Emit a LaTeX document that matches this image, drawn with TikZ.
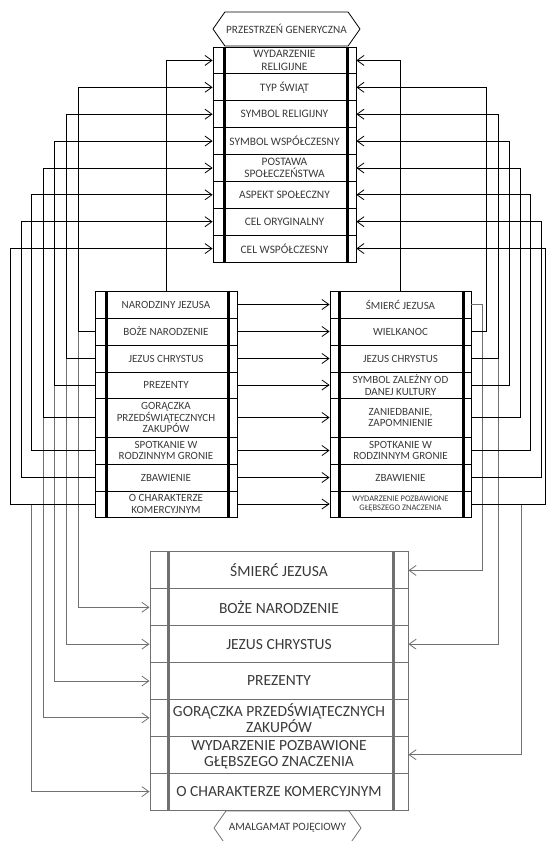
\documentclass[tikz,border=0pt]{standalone}
\usepackage{fontspec}
\setmainfont{Carlito}
\usetikzlibrary{arrows.meta,shapes.symbols}
\definecolor{ink}{HTML}{3A3A3A}
\definecolor{greyline}{HTML}{707070}
\tikzset{
  genrow/.style={draw, rectangle, line width=0.8pt, minimum width=143pt, minimum height=26.9pt,
    inner sep=0pt, align=center, text=ink, font=\fontsize{11.4}{12.6}\selectfont},
  inrow/.style={draw, rectangle, line width=0.8pt, minimum width=#1, inner sep=0pt,
    align=center, text=ink, font=\fontsize{11}{11.8}\selectfont},
  blendrow/.style={draw=greyline, rectangle, line width=1pt, minimum width=258pt, minimum height=36.9pt,
    inner sep=0pt, align=center, text=ink, font=\fontsize{15.5}{16.5}\selectfont},
  spacelbl/.style={draw, signal, signal to=west and east, signal pointer angle=110,
    minimum width=147pt, minimum height=34pt, inner sep=0pt, line width=0.8pt,
    text=ink, font=\fontsize{11.2}{12}\selectfont},
  arr/.style={-{Straight Barb[length=7pt,width=10pt]}, line width=0.8pt},
  garr/.style={arr, draw=greyline},
  frame/.style={line width=2.4pt},
}
\begin{document}
\begin{tikzpicture}[x=1pt, y=-1pt]
\useasboundingbox (0,0) rectangle (546,841);

% generic space
\node[spacelbl] (gen) at (286.5,29) {PRZESTRZEŃ GENERYCZNA};
\foreach \t [count=\i] in {{WYDARZENIE\\RELIGIJNE}, {TYP ŚWIĄT}, {SYMBOL RELIGIJNY},
    {SYMBOL WSPÓŁCZESNY}, {POSTAWA\\SPOŁECZEŃSTWA}, {ASPEKT SPOŁECZNY},
    {CEL ORYGINALNY}, {CEL WSPÓŁCZESNY}}
  \node[genrow] (g\i) at (284.5,{47+26.875*(\i-0.5)}) {\t};
\draw[frame] ([xshift=12pt]g1.north west) -- ([xshift=12pt]g8.south west);
\draw[frame] ([xshift=-9pt]g1.north east) -- ([xshift=-9pt]g8.south east);

% input spaces
\foreach \t/\y/\h [count=\i] in {NARODZINY JEZUSA/304.5/27, BOŻE NARODZENIE/331.5/27,
    JEZUS CHRYSTUS/358.5/27, PREZENTY/385/26, {GORĄCZKA\\PRZEDŚWIĄTECZNYCH\\ZAKUPÓW}/417.5/39,
    {SPOTKANIE W\\RODZINNYM GRONIE}/450.5/27, ZBAWIENIE/477.5/27,
    {O CHARAKTERZE\\KOMERCYJNYM}/504/26}
  \node[inrow=142pt, minimum height=\h pt] (l\i) at (166,\y) {\t};
\foreach \t/\y/\h [count=\i] in {ŚMIERĆ JEZUSA/304.5/27, WIELKANOC/331.5/27,
    JEZUS CHRYSTUS/358.5/27, {SYMBOL ZALEŻNY OD\\DANEJ KULTURY}/385/26,
    {ZANIEDBANIE,\\ZAPOMNIENIE}/417.5/39, {SPOTKANIE W\\RODZINNYM GRONIE}/450.5/27,
    ZBAWIENIE/477.5/27}
  \node[inrow=141pt, minimum height=\h pt] (r\i) at (400.5,\y) {\t};
\node[inrow=141pt, minimum height=26pt, font=\fontsize{8.5}{9.5}\selectfont] (r8) at (400.5,504)
  {WYDARZENIE POZBAWIONE\\GŁĘBSZEGO ZNACZENIA};
\draw[frame] ([xshift=12pt]l1.north west) -- ([xshift=12pt]l8.south west);
\draw[frame] ([xshift=-9pt]l1.north east) -- ([xshift=-9pt]l8.south east);
\draw[frame] ([xshift=10pt]r1.north west) -- ([xshift=10pt]r8.south west);
\draw[frame] ([xshift=-8pt]r1.north east) -- ([xshift=-8pt]r8.south east);

% blend
\foreach \t [count=\i] in {ŚMIERĆ JEZUSA, BOŻE NARODZENIE, JEZUS CHRYSTUS, PREZENTY,
    {GORĄCZKA PRZEDŚWIĄTECZNYCH\\ZAKUPÓW}, {WYDARZENIE POZBAWIONE\\GŁĘBSZEGO ZNACZENIA},
    O CHARAKTERZE KOMERCYJNYM}
  \node[blendrow] (b\i) at (279,{552+36.86*(\i-0.5)}) {\t};
\draw[frame, draw=greyline, line width=3pt] ([xshift=19pt]b1.north west) -- ([xshift=19pt]b7.south west);
\draw[frame, draw=greyline, line width=3pt] ([xshift=-15pt]b1.north east) -- ([xshift=-15pt]b7.south east);
\node[spacelbl, draw=greyline] (blend) at (287.5,828) {AMALGAMAT POJĘCIOWY};

% input 1 -> generic and blend
\coordinate (cg8) at (31,0);
\foreach \i/\x in {2/78,3/66,4/54,5/43,6/31,7/21,8/10}
  \coordinate (cl\i) at (\x,0);
\foreach \i in {2,3,4,5}
  \draw[garr] (cl\i |- l\i.west) |- (b\i.west);
\draw[garr] (cg8 |- l8.west) |- (b7.west);
\draw[arr] (l1.north) |- (g1.west);
\foreach \i in {2,...,8}
  \draw[arr] (l\i.west) -| (cl\i |- g\i.west) -- (g\i.west);

% input 2 -> generic and blend
\coordinate (cb1) at (482,0);
\coordinate (cb6) at (521,0);
\foreach \i/\x in {2/486,3/498,4/509,5/520,6/530,7/541,8/545.5}
  \coordinate (cr\i) at (\x,0);
\draw[garr] (r1.east) -| (cb1 |- b1.east) -- (b1.east);
\draw[garr] (cr3 |- r3.east) |- (b3.east);
\draw[garr] (cb6 |- r8.east) |- (b6.east);
\draw[arr] (r1.north) |- (g1.east);
\foreach \i in {2,...,8}
  \draw[arr] (r\i.east) -| (cr\i |- g\i.east) -- (g\i.east);

% input 1 -> input 2
\foreach \i in {1,...,8}
  \draw[arr] (l\i.east) -- (r\i.west);
\end{tikzpicture}
\end{document}
